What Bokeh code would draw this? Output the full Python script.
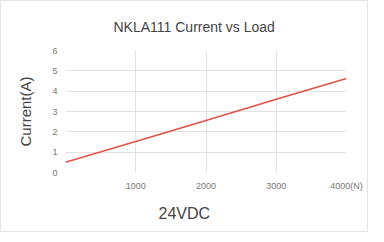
from bokeh.plotting import figure
from bokeh.models import Range1d, FixedTicker, Title
from bokeh.embed import file_html
from bokeh.resources import INLINE

load_n = [0, 1000, 2000, 3000, 4000]
current_a = [0.5, 1.52, 2.56, 3.6, 4.62]
x_ticks = [1000, 2000, 3000, 4000]
x_tick_labels = {1000: "1000", 2000: "2000", 3000: "3000", 4000: "4000(N)"}
y_ticks = [0, 1, 2, 3, 4, 5, 6]
title_text = "NKLA111 Current vs Load"
x_label = "24VDC"
y_label = "Current(A)"

FONT = "Liberation Sans"

p = figure(width=368, height=232, output_backend="svg", toolbar_location=None,
           x_range=Range1d(0, 4000), y_range=Range1d(0, 6),
           min_border_left=64, min_border_right=23, min_border_top=49, min_border_bottom=61)
p.styles = {"border": "1px solid #e4e4e4", "box-sizing": "border-box"}
p.outline_line_color = None
p.background_fill_color = "white"

p.line(load_n, current_a, line_color="#e5504b", line_width=1.6)

p.add_layout(Title(text=title_text, align="left", offset=48, standoff=31,
                   text_font=FONT, text_font_size="14px", text_font_style="normal",
                   text_color="#444444"), "above")

for ax in (p.xaxis[0], p.yaxis[0]):
    ax.axis_line_color = None
    ax.major_tick_line_color = None
    ax.minor_tick_line_color = None
    ax.major_tick_out = 0
    ax.major_tick_in = 0
    ax.major_label_text_font = FONT
    ax.major_label_text_font_size = "9px"
    ax.major_label_text_color = "#777777"

p.xaxis[0].ticker = FixedTicker(ticks=x_ticks)
p.xaxis[0].major_label_overrides = x_tick_labels
p.xaxis[0].major_label_standoff = 8

p.add_layout(Title(text=x_label, align="left", offset=93, standoff=18,
                   text_font=FONT, text_font_size="16px", text_font_style="normal",
                   text_color="#444444"), "below")

p.yaxis[0].ticker = FixedTicker(ticks=y_ticks)
p.yaxis[0].major_label_standoff = 8
p.yaxis[0].axis_label = y_label
p.yaxis[0].axis_label_text_font = FONT
p.yaxis[0].axis_label_text_font_size = "15px"
p.yaxis[0].axis_label_text_font_style = "normal"
p.yaxis[0].axis_label_text_color = "#444444"
p.yaxis[0].axis_label_standoff = 15

p.xgrid[0].ticker = FixedTicker(ticks=[0] + x_ticks)
p.ygrid[0].ticker = FixedTicker(ticks=y_ticks)
p.xgrid.grid_line_color = "#e2e2e2"
p.ygrid.grid_line_color = "#e2e2e2"

open("out.html", "w").write(file_html(p, INLINE))
